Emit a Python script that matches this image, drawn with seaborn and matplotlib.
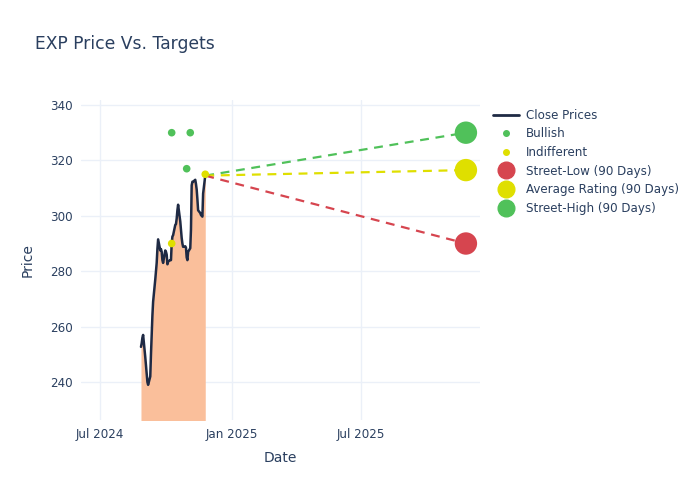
import pandas as pd
import numpy as np
import seaborn as sns
import matplotlib.pyplot as plt
import matplotlib.dates as mdates
from matplotlib.lines import Line2D

# close prices, one per business day
dates = pd.bdate_range("2024-08-27", "2024-11-25")
close = [252.7, 254, 256, 257,
         249, 246, 243, 240, 239,
         242, 250, 257, 264, 269,
         277, 280, 283, 288, 291.5,
         287.5, 288, 287, 284, 283,
         287.5, 287, 286, 282.5, 283.5,
         284, 284, 290, 292.5, 293,
         296.7, 297, 299, 302, 304,
         298, 295, 292, 290, 288.8,
         289, 288.5, 285, 284, 287,
         288.3, 295, 311, 312.3, 312.3,
         313, 311.5, 309.5, 306, 302,
         301, 300.3, 300, 299.7, 308,
         314.5]

bull_dates = ["2024-10-09", "2024-11-04", "2024-10-30"]
bull_vals = [330, 330, 317]
indiff_dates = ["2024-10-09", "2024-11-25"]
indiff_vals = [290, 315]

target_date = "2025-11-25"
street_low = 290
avg_rating = 316.5
street_high = 330

GREEN = "#50c15a"
YELLOW = "#dfdf00"
RED = "#d6454f"
NAVY = "#1f2a44"
FONT = "#2a3f5f"

df = pd.DataFrame({"Date": dates, "Price": close})
bull = pd.DataFrame({"Date": pd.to_datetime(bull_dates), "Price": bull_vals})
indiff = pd.DataFrame({"Date": pd.to_datetime(indiff_dates), "Price": indiff_vals})

sns.set_style("white")
plt.rcParams["font.family"] = ["DejaVu Sans"]

fig = plt.figure(figsize=(7, 5), dpi=100)
ax = fig.add_axes([0.1157, 0.16, 0.5703, 0.64])

ax.fill_between(df["Date"], df["Price"], 200, color="#fabf9b", lw=0, zorder=1)
sns.lineplot(data=df, x="Date", y="Price", ax=ax, color=NAVY, lw=1.8, zorder=3)

last_d = df["Date"].iloc[-1]
last_p = df["Price"].iloc[-1]
td = pd.Timestamp(target_date)
for val, col in [(street_high, GREEN), (avg_rating, YELLOW), (street_low, RED)]:
    ax.plot([last_d, td], [last_p, val], ls=(0, (4, 3)), color=col, lw=1.6, zorder=2)

sns.scatterplot(data=bull, x="Date", y="Price", ax=ax, color=GREEN, s=30,
                edgecolor="none", zorder=4)
sns.scatterplot(data=indiff, x="Date", y="Price", ax=ax, color=YELLOW, s=30,
                edgecolor="none", zorder=4)

targets = pd.DataFrame({"Date": [td] * 3,
                        "Price": [street_low, avg_rating, street_high]})
sns.scatterplot(data=targets, x="Date", y="Price", ax=ax,
                hue=["low", "avg", "high"], palette=[RED, YELLOW, GREEN],
                s=260, edgecolor="none", zorder=5, legend=False)

ax.set_xlim(pd.Timestamp("2024-06-04"), pd.Timestamp("2025-12-15"))
ax.set_ylim(226.3, 341.8)
ax.set_xticks(pd.to_datetime(["2024-07-01", "2025-01-01", "2025-07-01"]))
ax.xaxis.set_major_formatter(mdates.DateFormatter("%b %Y"))
ax.set_yticks(np.arange(240, 341, 20))
ax.grid(True, color="#ebf0f8", lw=1)
for s in ax.spines.values():
    s.set_visible(False)
ax.tick_params(colors=FONT, labelsize=8.6, length=0, pad=6)
ax.set_xlabel("Date", color=FONT, fontsize=10, labelpad=7)
ax.set_ylabel("Price", color=FONT, fontsize=10, labelpad=11)

fig.text(0.05, 0.912, "EXP Price Vs. Targets", color=FONT, fontsize=12.3,
         va="center")

handles = [
    Line2D([], [], color=NAVY, lw=2),
    Line2D([], [], color=GREEN, marker="o", ls="none", ms=4),
    Line2D([], [], color=YELLOW, marker="o", ls="none", ms=4),
    Line2D([], [], color=RED, marker="o", ls="none", ms=12),
    Line2D([], [], color=YELLOW, marker="o", ls="none", ms=12),
    Line2D([], [], color=GREEN, marker="o", ls="none", ms=12),
]
labels = ["Close Prices", "Bullish", "Indifferent", "Street-Low (90 Days)",
          "Average Rating (90 Days)", "Street-High (90 Days)"]
leg = fig.legend(handles, labels, loc="upper left", bbox_to_anchor=(0.697, 0.792),
                 frameon=False, fontsize=8.6, labelspacing=0.47,
                 handlelength=2.2, handletextpad=0.6, borderaxespad=0)
for t in leg.get_texts():
    t.set_color(FONT)

plt.savefig("out.png", dpi=100)
